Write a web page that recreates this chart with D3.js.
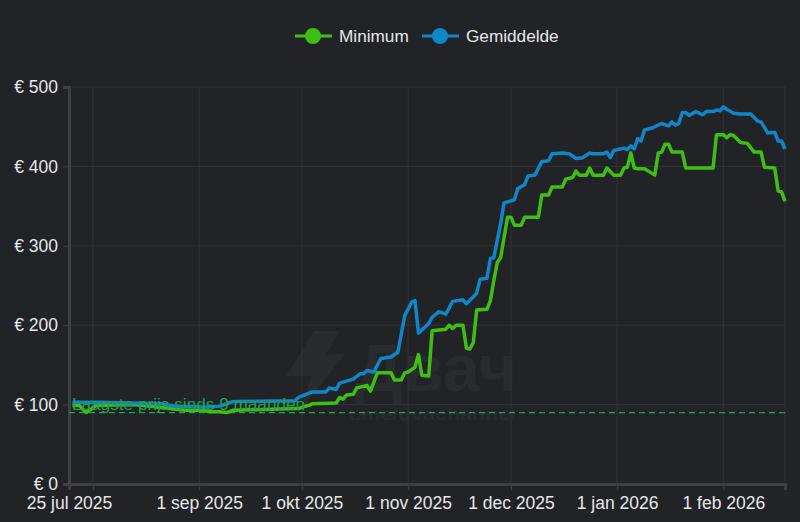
<!DOCTYPE html>
<html>
<head>
<meta charset="utf-8">
<script src="https://cdn.jsdelivr.net/npm/d3@7"></script>
<style>
  html, body { margin: 0; padding: 0; background: #212327; }
  svg { display: block; font-family: "Liberation Sans", Arial, sans-serif; }
</style>
</head>
<body>
<svg id="chart"></svg>
<script>
// days counted from the first day of the x axis
const startDate = "2025-07-25";
const endDate = "2026-02-19";

const minDays = [1,3,5,8,19,24,29,34,39,41,44,46,48,67,69,70,71,78,79,80,81,83,84,85,87,88,90,94,95,97,98,99,101,102,103,105,106,110,111,112,113,115,116,117,118,119,122,123,124,125,126,128,129,130,132,133,137,138,140,141,144,145,147,148,149,151,152,153,156,157,159,161,162,163,164,165,166,168,171,172,173,174,175,176,179,180,188,189,191,192,193,194,196,198,200,202,203,206,207,208,209];
const minValues = [99,99,90,99,100,98,95,93,93,91,91,90,93,95,98,99,101,102,109,107,112,113,121,122,124,117,140,140,131,131,140,141,147,163,137,136,193,195,200,196,200,200,171,170,178,219,220,231,256,279,285,336,336,326,326,336,336,364,364,374,374,384,386,394,389,389,398,389,389,398,389,389,398,399,417,398,397,397,389,417,418,428,428,418,418,398,398,440,440,436,440,439,430,429,418,418,399,398,369,368,356];

const avgDays = [1,9,18,27,31,40,44,48,66,67,71,75,76,78,79,83,85,86,87,89,91,94,96,98,100,101,102,105,106,108,110,112,115,116,119,120,122,123,124,126,127,130,131,133,134,136,138,140,141,144,146,148,150,152,153,156,157,158,159,162,163,164,165,166,167,168,170,173,175,176,177,178,179,180,181,183,185,186,188,189,190,191,192,194,196,199,201,202,204,206,207,208,209];
const avgValues = [103,103,102,101,98,97,98,104,105,109,116,116,121,119,127,132,139,139,143,141,158,160,166,212,229,231,190,202,210,217,214,230,232,227,240,258,259,284,285,328,354,358,372,377,388,389,406,407,416,417,416,410,411,417,416,416,418,411,420,423,421,426,422,435,432,446,448,454,451,456,452,454,468,468,464,469,465,469,469,471,470,475,472,467,466,466,457,456,442,443,432,432,422];

const lowestPrice = 90;
const lowestLabel = "Laagste prijs sinds 9 maanden";

const yTicks = [0, 100, 200, 300, 400, 500];
const gridDates = ["2025-07-25","2025-08-01","2025-09-01","2025-10-01","2025-11-01","2025-12-01","2026-01-01","2026-02-01"];
const gridLabels = ["25 jul 2025","","1 sep 2025","1 okt 2025","1 nov 2025","1 dec 2025","1 jan 2026","1 feb 2026"];

const seriesNames = ["Minimum", "Gemiddelde"];
const seriesColors = ["#3fbf12", "#0f86c6"];

const width = 800;
const height = 522;
const margin = {top: 87, right: 15, bottom: 38, left: 69};

const parseDate = d3.utcParse("%Y-%m-%d");
const start = parseDate(startDate);
const dayToDate = d => d3.utcDay.offset(start, d);

const x = d3.scaleUtc()
    .domain([start, parseDate(endDate)])
    .range([margin.left, width - margin.right]);
const y = d3.scaleLinear()
    .domain([0, 500])
    .range([height - margin.bottom, margin.top]);

const svg = d3.select("#chart")
    .attr("width", width)
    .attr("height", height);

// watermark sits behind everything
const mark = svg.append("g").attr("fill", "#292b2f");
mark.append("path").attr("d", "M314,331 L340,331 L326,354 L345,354 L301,410 L311,376 L286,376 Z");
mark.append("text")
    .attr("x", 355).attr("y", 391)
    .attr("font-size", 66).attr("font-weight", "bold")
    .attr("textLength", 162).attr("lengthAdjust", "spacingAndGlyphs")
    .text("Двач");
mark.append("text")
    .attr("x", 348).attr("y", 420)
    .attr("font-size", 16).attr("font-weight", "bold")
    .attr("textLength", 168).attr("lengthAdjust", "spacingAndGlyphs")
    .text("t.me/dvachannel");

const yAxis = d3.axisLeft(y)
    .tickValues(yTicks)
    .tickFormat(d => "€ " + d)
    .tickSize(6)
    .tickPadding(5);
const gy = svg.append("g")
    .attr("transform", `translate(${margin.left},0)`)
    .call(yAxis);

const xAxis = d3.axisBottom(x)
    .tickValues(gridDates.map(parseDate))
    .tickFormat((d, i) => gridLabels[i])
    .tickSize(6)
    .tickPadding(5);
const gx = svg.append("g")
    .attr("transform", `translate(0,${height - margin.bottom})`)
    .call(xAxis);

// grid lines
svg.insert("g", () => gy.node())
    .selectAll("line")
    .data(yTicks)
    .join("line")
    .attr("x1", margin.left).attr("x2", width - margin.right)
    .attr("y1", d => y(d)).attr("y2", d => y(d))
    .attr("stroke", "#303338");
svg.insert("g", () => gy.node())
    .selectAll("line")
    .data(gridDates)
    .join("line")
    .attr("x1", d => x(parseDate(d))).attr("x2", d => x(parseDate(d)))
    .attr("y1", margin.top).attr("y2", height - margin.bottom)
    .attr("stroke", "#303338");
svg.insert("line", () => gy.node())
    .attr("x1", width - margin.right).attr("x2", width - margin.right)
    .attr("y1", margin.top).attr("y2", height - margin.bottom)
    .attr("stroke", "#303338");

gy.select(".domain").attr("stroke", "#3c3f44").attr("stroke-width", 3);
gx.select(".domain").attr("stroke", "#3c3f44").attr("stroke-width", 3);
svg.selectAll(".tick line").attr("stroke", "#3c3f44");
svg.selectAll(".tick text")
    .attr("fill", "#e6e7e8")
    .attr("font-size", 17.5)
    .attr("font-family", "Liberation Sans, Arial, sans-serif");
gx.selectAll(".tick text").attr("dy", "0.8em");

// lowest price marker
svg.append("line")
    .attr("x1", margin.left).attr("x2", width - margin.right)
    .attr("y1", y(lowestPrice)).attr("y2", y(lowestPrice))
    .attr("stroke", "#2ea24a")
    .attr("stroke-width", 1.3)
    .attr("stroke-dasharray", "6,4");

const line = d3.line()
    .x(d => x(dayToDate(d[0])))
    .y(d => y(d[1]));

svg.append("path")
    .datum(d3.zip(minDays, minValues))
    .attr("fill", "none")
    .attr("stroke", seriesColors[0])
    .attr("stroke-width", 3.5)
    .attr("stroke-linejoin", "round")
    .attr("d", line);
svg.append("path")
    .datum(d3.zip(avgDays, avgValues))
    .attr("fill", "none")
    .attr("stroke", seriesColors[1])
    .attr("stroke-width", 3.5)
    .attr("stroke-linejoin", "round")
    .attr("d", line);

svg.append("text")
    .attr("x", margin.left + 3)
    .attr("y", y(lowestPrice) - 3)
    .attr("fill", "#22a050")
    .attr("font-size", 17.2)
    .text(lowestLabel);

// legend
const legendX = [295, 422];
const legend = svg.append("g")
    .selectAll("g")
    .data(seriesNames)
    .join("g")
    .attr("transform", (d, i) => `translate(${legendX[i]},36)`);
legend.append("line")
    .attr("x2", 37)
    .attr("stroke", (d, i) => seriesColors[i])
    .attr("stroke-width", 3);
legend.append("circle")
    .attr("cx", 18).attr("r", 8)
    .attr("fill", (d, i) => seriesColors[i]);
legend.append("text")
    .attr("x", 44).attr("y", 6)
    .attr("fill", "#e6e7e8")
    .attr("font-size", 17.2)
    .text(d => d);
</script>
</body>
</html>
